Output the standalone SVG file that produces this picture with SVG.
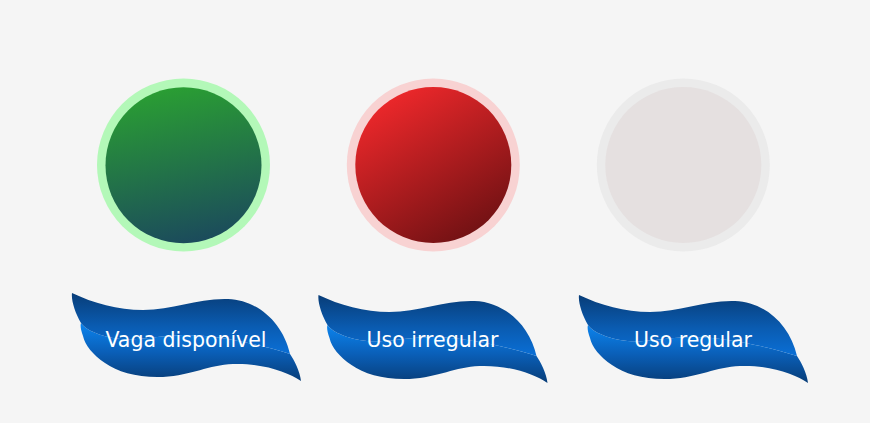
<svg xmlns="http://www.w3.org/2000/svg" xmlns:xlink="http://www.w3.org/1999/xlink" width="870" height="423" viewBox="0 0 870 423">
  <style>
    .label { font-family: "DejaVu Sans", "Noto Sans", sans-serif; font-size: 20.5px; fill: #ffffff; text-anchor: middle; }
    .ring { stroke: none; }
  </style>
  <defs>
    <linearGradient id="gGreen" x1="0.4" y1="0" x2="0.6" y2="1">
      <stop offset="0" stop-color="#2a9e33"/>
      <stop offset="1" stop-color="#1b4a5c"/>
    </linearGradient>
    <linearGradient id="gRed" x1="0.2" y1="0" x2="0.8" y2="1">
      <stop offset="0" stop-color="#f4292c"/>
      <stop offset="1" stop-color="#6a1012"/>
    </linearGradient>
    <linearGradient id="gFront" x1="0" y1="0" x2="0" y2="1">
      <stop offset="0" stop-color="#083d78"/>
      <stop offset="0.55" stop-color="#0a5cb2"/>
      <stop offset="1" stop-color="#0a6fd6"/>
    </linearGradient>
    <linearGradient id="gBack" x1="0" y1="0" x2="0" y2="1">
      <stop offset="0" stop-color="#0b84ee"/>
      <stop offset="0.5" stop-color="#0a5fb8"/>
      <stop offset="1" stop-color="#083d78"/>
    </linearGradient>
    <g id="ribbon">
      <path fill="url(#gBack)" d="M9,30 C13,35 21,41 41,45 C61,49 81,43 111,42 C141,41 191,52 218,61 C222,67 228,78 229,88 C216,79 191,70 161,71 C136,72 121,82 91,84 C66,85 46,79 33,70 C21,62 13,52 11,43 C9,37 8,33 9,30 Z"/>
      <path fill="url(#gFront)" d="M0,0 C21,10 46,17 71,17 C101,17 126,5 156,6 C186,7 211,30 218,61 C191,52 141,41 111,42 C81,43 61,49 41,45 C21,41 13,35 9,30 C3,20 -1,7 0,0 Z"/>
    </g>
  </defs>
  <rect x="0" y="0" width="870" height="423" fill="#f5f5f5"/>

  <g id="node-green">
    <circle cx="183.5" cy="165" r="86.5" fill="#b3f8b8"/>
    <circle cx="183.5" cy="165.3" r="78" fill="url(#gGreen)"/>
  </g>
  <g id="node-red">
    <circle cx="433.3" cy="165" r="86.5" fill="#f8d2d2"/>
    <circle cx="433.3" cy="165" r="78" fill="url(#gRed)"/>
  </g>
  <g id="node-grey">
    <circle cx="683.3" cy="165" r="86.5" fill="#ebebeb"/>
    <circle cx="683.3" cy="165" r="78" fill="#e5e0e0"/>
  </g>

  <g id="label-vaga">
    <use xlink:href="#ribbon" href="#ribbon" transform="translate(72,293)"/>
    <text class="label" x="186" y="346.5">Vaga disponível</text>
  </g>
  <g id="label-irregular">
    <use xlink:href="#ribbon" href="#ribbon" transform="translate(318.5,295)"/>
    <text class="label" x="432.5" y="346.5">Uso irregular</text>
  </g>
  <g id="label-regular">
    <use xlink:href="#ribbon" href="#ribbon" transform="translate(579,295)"/>
    <text class="label" x="693" y="346.5">Uso regular</text>
  </g>
</svg>
